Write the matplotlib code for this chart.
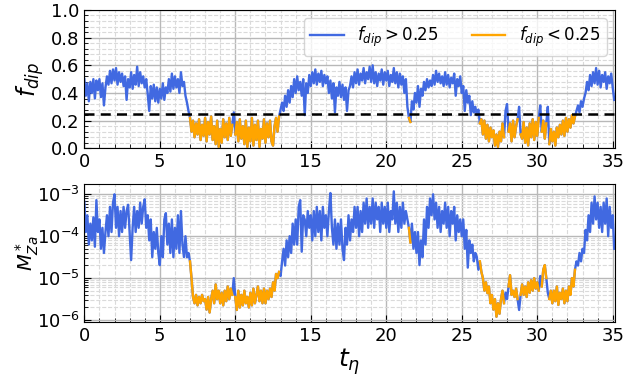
import numpy as np
import matplotlib
matplotlib.use("Agg")
import matplotlib.pyplot as plt
from matplotlib.ticker import AutoMinorLocator, LogLocator, NullFormatter

# f_dip values, one per 0.1 time unit starting at t = 0
fdip = [
    0.50, 0.38, 0.47, 0.34, 0.48, 0.40, 0.50, 0.36, 0.49, 0.42,
    0.50, 0.37, 0.47, 0.31, 0.44, 0.52, 0.46, 0.56, 0.47, 0.57,
    0.49, 0.58, 0.46, 0.55, 0.48, 0.54, 0.45, 0.52, 0.35, 0.50,
    0.44, 0.55, 0.43, 0.53, 0.46, 0.59, 0.45, 0.55, 0.47, 0.52,
    0.44, 0.50, 0.39, 0.27, 0.45, 0.36, 0.46, 0.34, 0.44, 0.33,
    0.43, 0.36, 0.47, 0.35, 0.44, 0.40, 0.50, 0.41, 0.54, 0.43,
    0.52, 0.44, 0.50, 0.40, 0.55, 0.45, 0.48, 0.38, 0.33, 0.27,
    0.22, 0.12, 0.20, 0.08, 0.18, 0.10, 0.21, 0.06, 0.17, 0.09,
    0.22, 0.05, 0.19, 0.10, 0.23, 0.06, 0.16, 0.03, 0.20, 0.01,
    0.14, 0.04, 0.21, 0.08, 0.18, 0.06, 0.22, 0.09, 0.17, 0.26,
    0.10, 0.19, 0.05, 0.21, 0.07, 0.16, 0.03, 0.20, 0.01, 0.15,
    0.05, 0.22, 0.02, 0.17, 0.06, 0.20, 0.01, 0.14, 0.07, 0.21,
    0.04, 0.18, 0.08, 0.20, 0.05, 0.02, 0.16, 0.22, 0.12, 0.23,
    0.28, 0.33, 0.27, 0.38, 0.30, 0.42, 0.33, 0.45, 0.37, 0.50,
    0.40, 0.52, 0.42, 0.48, 0.38, 0.50, 0.24, 0.47, 0.40, 0.53,
    0.45, 0.55, 0.47, 0.57, 0.46, 0.54, 0.48, 0.56, 0.45, 0.53,
    0.47, 0.52, 0.40, 0.49, 0.36, 0.47, 0.26, 0.44, 0.38, 0.48,
    0.37, 0.46, 0.35, 0.44, 0.27, 0.42, 0.45, 0.52, 0.44, 0.55,
    0.47, 0.57, 0.46, 0.54, 0.49, 0.58, 0.47, 0.55, 0.50, 0.59,
    0.48, 0.60, 0.47, 0.55, 0.45, 0.54, 0.49, 0.57, 0.46, 0.55,
    0.49, 0.56, 0.45, 0.53, 0.48, 0.58, 0.47, 0.55, 0.44, 0.54,
    0.46, 0.52, 0.40, 0.50, 0.30, 0.22, 0.19, 0.34, 0.28, 0.40,
    0.33, 0.45, 0.30, 0.43, 0.38, 0.48, 0.42, 0.50, 0.44, 0.49,
    0.45, 0.53, 0.46, 0.56, 0.48, 0.54, 0.47, 0.52, 0.45, 0.55,
    0.46, 0.53, 0.44, 0.51, 0.47, 0.54, 0.38, 0.50, 0.45, 0.52,
    0.40, 0.45, 0.27, 0.42, 0.33, 0.38, 0.24, 0.34, 0.26, 0.30,
    0.24, 0.28, 0.18, 0.21, 0.10, 0.20, 0.07, 0.17, 0.05, 0.15,
    0.08, 0.13, 0.02, 0.10, 0.01, 0.12, 0.05, 0.18, 0.08, 0.27,
    0.32, 0.12, 0.18, 0.05, 0.20, 0.08, 0.16, 0.21, 0.30, 0.10,
    0.07, 0.19, 0.04, 0.15, 0.02, 0.18, 0.08, 0.21, 0.06, 0.19,
    0.09, 0.22, 0.31, 0.12, 0.20, 0.07, 0.18, 0.30, 0.03, 0.14,
    0.05, 0.12, 0.02, 0.15, 0.08, 0.17, 0.10, 0.20, 0.09, 0.22,
    0.12, 0.21, 0.15, 0.24, 0.18, 0.23, 0.27, 0.31, 0.26, 0.34,
    0.30, 0.36, 0.40, 0.48, 0.42, 0.53, 0.45, 0.55, 0.47, 0.58,
    0.46, 0.56, 0.44, 0.53, 0.48, 0.55, 0.43, 0.52, 0.47, 0.54,
    0.44, 0.35,
]

# log10 of M*_Za, same sampling
log_mza = [
    -3.18, -3.90, -3.50, -4.20, -3.70, -4.10, -3.55, -4.25, -3.14, -3.90,
    -3.60, -4.30, -3.80, -4.40, -3.90, -3.50, -4.00, -3.30, -3.90, -3.20,
    -3.00, -3.80, -3.30, -4.00, -3.40, -3.90, -3.30, -3.80, -3.40, -3.25,
    -3.90, -4.57, -3.80, -3.30, -3.90, -3.40, -3.80, -3.20, -3.70, -3.30,
    -3.12, -3.80, -3.50, -4.10, -3.60, -4.50, -3.90, -4.30, -3.80, -4.40,
    -4.69, -4.00, -4.50, -3.60, -3.45, -4.20, -3.70, -4.40, -3.60, -4.50,
    -3.80, -4.30, -3.50, -4.40, -3.40, -4.20, -4.50, -4.00, -4.50, -4.40,
    -4.60, -5.00, -5.45, -5.60, -5.40, -5.65, -5.45, -5.60, -5.40, -5.55,
    -5.50, -5.75, -5.45, -5.82, -5.50, -5.30, -5.60, -5.15, -5.50, -5.30,
    -5.60, -5.35, -5.65, -5.30, -5.55, -5.20, -5.50, -5.25, -5.40, -5.00,
    -5.45, -5.76, -5.30, -5.70, -5.40, -5.65, -5.30, -5.60, -5.45, -5.70,
    -5.35, -5.65, -5.25, -5.60, -5.40, -5.20, -5.55, -5.30, -5.60, -5.25,
    -5.60, -5.30, -5.50, -5.25, -5.45, -5.10, -5.30, -4.90, -5.00, -4.85,
    -4.95, -4.60, -4.30, -4.70, -4.10, -4.50, -4.00, -4.40, -3.70, -4.20,
    -3.60, -4.20, -3.30, -3.14, -4.37, -3.50, -3.60, -4.00, -3.40, -3.80,
    -3.50, -4.10, -3.40, -4.00, -3.30, -3.90, -3.40, -4.10, -3.30, -3.80,
    -3.50, -4.00, -3.40, -2.97, -3.80, -4.20, -3.60, -4.30, -3.70, -4.20,
    -3.60, -4.30, -4.57, -3.80, -4.20, -3.50, -4.10, -3.60, -3.90, -3.30,
    -3.80, -3.30, -4.00, -3.40, -3.90, -3.20, -3.70, -3.10, -3.80, -3.30,
    -3.70, -3.10, -3.80, -3.20, -3.60, -3.30, -3.90, -3.20, -3.70, -3.30,
    -3.80, -3.20, -3.90, -3.40, -3.60, -2.93, -3.70, -3.20, -3.90, -3.30,
    -3.80, -3.20, -3.70, -3.40, -3.60, -3.80, -4.15, -3.70, -4.30, -3.90,
    -4.40, -3.90, -4.69, -4.10, -4.50, -3.60, -4.20, -3.30, -3.80, -3.10,
    -3.50, -3.00, -3.60, -3.20, -3.80, -3.30, -3.90, -3.40, -3.70, -3.20,
    -3.80, -3.30, -4.00, -3.40, -3.70, -3.30, -4.10, -3.50, -3.90, -3.60,
    -4.00, -3.60, -4.30, -3.85, -4.75, -4.10, -4.40, -4.20, -4.60, -4.40,
    -4.50, -4.80, -4.60, -4.85, -5.00, -5.30, -5.10, -5.36, -5.20, -5.60,
    -5.40, -5.75, -5.50, -5.92, -5.60, -5.85, -5.50, -5.30, -5.60, -5.35,
    -5.50, -5.20, -4.93, -5.40, -5.30, -5.45, -5.25, -5.50, -5.76, -5.40,
    -5.15, -5.40, -5.20, -5.45, -5.10, -5.35, -5.05, -5.30, -5.00, -5.25,
    -5.10, -5.30, -4.95, -5.20, -4.80, -4.69, -5.00, -5.35, -5.50, -5.30,
    -5.60, -5.30, -5.55, -5.20, -5.64, -5.35, -5.50, -5.25, -5.60, -5.30,
    -5.55, -5.20, -5.40, -5.00, -5.20, -4.80, -4.60, -4.70, -4.40, -4.60,
    -4.30, -4.40, -3.85, -4.10, -3.50, -3.90, -3.20, -3.70, -3.05, -3.60,
    -3.20, -3.80, -3.30, -3.90, -3.20, -3.70, -3.10, -4.00, -3.30, -3.80,
    -3.50, -4.30,
]

dt = 0.1
threshold = 0.25
xticks = [0, 5, 10, 15, 20, 25, 30, 35]

fd = np.array(fdip)
mz = 10.0 ** np.array(log_mza)
t = np.arange(len(fd)) * dt
high = fd >= threshold

blue = "royalblue"
orange = "orange"
lw = 1.7

fig = plt.figure(figsize=(6.34, 3.77), dpi=100)
ax1 = fig.add_axes([0.133, 0.6066, 0.837, 0.367])
ax2 = fig.add_axes([0.133, 0.145, 0.837, 0.367])

ax1.plot(t, fd, color=blue, lw=lw, label=r"$f_{dip} > 0.25$")
ax1.plot(t, np.ma.masked_where(high, fd), color=orange, lw=lw,
         label=r"$f_{dip} < 0.25$")
ax1.axhline(threshold, color="black", ls="--", lw=1.8, dashes=(4, 2.5))

ax2.plot(t, mz, color=blue, lw=lw)
ax2.plot(t, np.ma.masked_where(high, mz), color=orange, lw=lw)
ax2.set_yscale("log")

for ax in (ax1, ax2):
    ax.set_xlim(0, 35.15)
    ax.set_xticks(xticks)
    ax.xaxis.set_minor_locator(AutoMinorLocator(5))
    ax.grid(True, which="major", color="#b8b8b8", lw=1.0, ls="-")
    ax.grid(True, which="minor", color="#dadada", lw=0.8, ls="--")
    ax.set_axisbelow(True)
    ax.tick_params(which="both", direction="in", labelsize=13)
    ax.tick_params(which="major", length=5)
    ax.tick_params(which="minor", length=3)

ax1.set_ylim(0, 1.0)
ax1.set_yticks([0, 0.2, 0.4, 0.6, 0.8, 1.0])
ax1.yaxis.set_minor_locator(AutoMinorLocator(5))
ax1.set_ylabel(r"$f_{dip}$", fontsize=17)

ax2.set_ylim(10 ** -6.055, 10 ** -2.754)
ax2.yaxis.set_major_locator(LogLocator(base=10, numticks=10))
ax2.yaxis.set_minor_locator(LogLocator(base=10, subs=np.arange(2, 10), numticks=20))
ax2.yaxis.set_minor_formatter(NullFormatter())
ax2.set_ylabel(r"$M^*_{Za}$", fontsize=14)
ax2.set_xlabel(r"$t_\eta$", fontsize=18, labelpad=1)

ax1.yaxis.set_label_coords(-0.072, 0.5)
ax2.yaxis.set_label_coords(-0.082, 0.5)

ax1.legend(loc="upper right", ncol=2, fontsize=12, framealpha=0.8,
           columnspacing=2.0, handlelength=2.0)

fig.savefig("out.png", dpi=100)
